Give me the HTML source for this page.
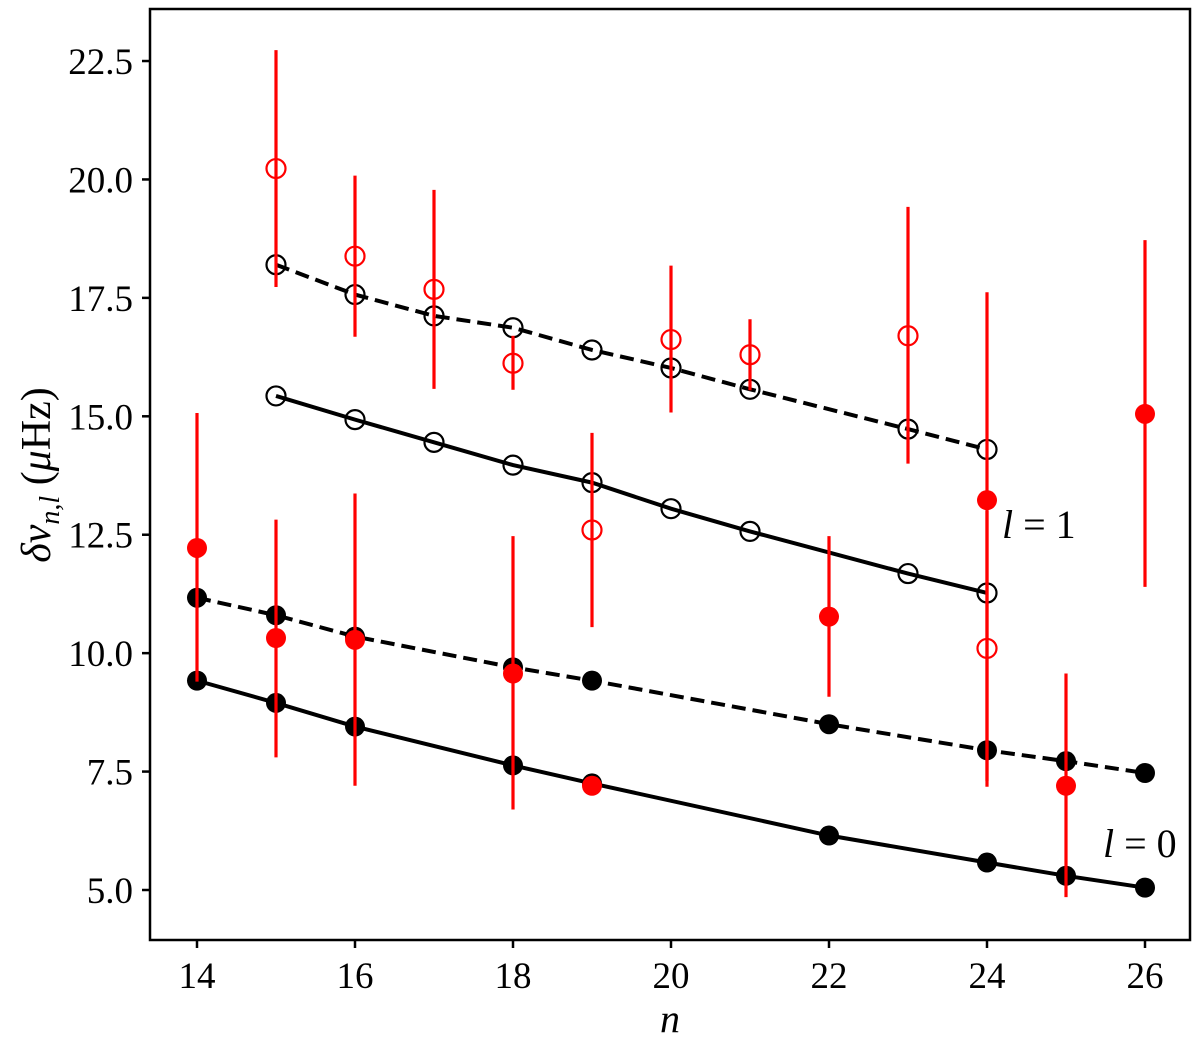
<!DOCTYPE html>
<html><head><meta charset="utf-8"><style>
html,body{margin:0;padding:0;background:#fff;}
svg text{font-family:"Liberation Serif",serif;}
</style></head><body>
<svg id="chart" width="1200" height="1040" xmlns="http://www.w3.org/2000/svg"></svg>
<script>
const xTicks=[14,16,18,20,22,24,26];
const yTicks=[5.0,7.5,10.0,12.5,15.0,17.5,20.0,22.5];
const l0SolidN=[14,15,16,18,19,22,24,25,26];
const l0SolidV=[9.42,8.95,8.45,7.63,7.25,6.15,5.58,5.3,5.05];
const l0DashN=[14,15,16,18,19,22,24,25,26];
const l0DashV=[11.17,10.8,10.35,9.7,9.42,8.5,7.95,7.72,7.47];
const l1SolidN=[15,16,17,18,19,20,21,23,24];
const l1SolidV=[15.43,14.93,14.45,13.97,13.6,13.05,12.57,11.68,11.27];
const l1DashN=[15,16,17,18,19,20,21,23,24];
const l1DashV=[18.2,17.57,17.12,16.87,16.4,16.02,15.57,14.73,14.3];
const obsFilledN=[14,15,16,18,19,22,24,25,26];
const obsFilledV=[12.22,10.32,10.28,9.57,7.2,10.77,13.23,7.2,15.05];
const obsFilledLo=[9.4,7.8,7.2,6.7,7.0,9.08,7.18,4.85,11.4];
const obsFilledHi=[15.07,12.82,13.37,12.47,7.4,12.47,17.62,9.57,18.72];
const obsOpenN=[15,16,17,18,19,20,21,23,24];
const obsOpenV=[20.23,18.38,17.68,16.12,12.6,16.62,16.3,16.7,10.1];
const obsOpenLo=[17.73,16.68,15.58,15.56,10.55,15.08,15.55,14.0,7.3];
const obsOpenHi=[22.73,20.08,19.78,16.7,14.65,18.18,17.05,19.42,13.0];

const NS="http://www.w3.org/2000/svg";
const svg=document.getElementById('chart');
const X=n=>197+(n-14)*79;
const Y=v=>890-(v-5)*47.37;
function mk(tag,attrs,parent){const e=document.createElementNS(NS,tag);for(const k in attrs)e.setAttribute(k,attrs[k]);(parent||svg).appendChild(e);return e;}

const frame=mk('rect',{x:150,y:9,width:1040,height:931,fill:'none',stroke:'#000','stroke-width':2.5});



xTicks.forEach(t=>{
  const l=mk('line',{x1:X(t),x2:X(t),y1:940,y2:948,stroke:'#000','stroke-width':2.5});
  
  
  const tx=mk('text',{x:X(t),y:988,'font-size':37,'text-anchor':'middle'});
  tx.textContent=t;
  
  
});
yTicks.forEach(t=>{
  const l=mk('line',{x1:142,x2:150,y1:Y(t),y2:Y(t),stroke:'#000','stroke-width':2.5});
  
  
  const tx=mk('text',{x:133,y:Y(t)+13,'font-size':37,'text-anchor':'end'});
  tx.textContent=t.toFixed(1);
  
  
});

const xl=mk('text',{x:670,y:1032,'font-size':40,'font-style':'italic','text-anchor':'middle'});
xl.textContent='n';


const yl=mk('text',{x:0,y:0,'font-size':42,'text-anchor':'middle',transform:'translate(50,475) rotate(-90)'});
yl.innerHTML='<tspan font-style="italic">δν</tspan><tspan font-style="italic" font-size="28" dy="9">n,l</tspan><tspan dy="-9"> (</tspan><tspan font-style="italic">μ</tspan><tspan>Hz)</tspan>';



function line(ns,vs,dash,name){
  const p=mk('polyline',{points:ns.map((n,i)=>X(n)+','+Y(vs[i])).join(' '),fill:'none',stroke:'#000','stroke-width':4,'stroke-dasharray':dash?'14,7':'none'});
  
  
}
function pts(ns,vs,filled,color,name){
  ns.forEach((n,i)=>{
    const c=mk('circle',{cx:X(n),cy:Y(vs[i]),r:filled?10:9.5,fill:filled?color:'none',stroke:color,'stroke-width':filled?0:2.2});
    
    
  });
}
function err(ns,lo,hi,name){
  ns.forEach((n,i)=>{
    const l=mk('line',{x1:X(n),x2:X(n),y1:Y(lo[i]),y2:Y(hi[i]),stroke:'#f00','stroke-width':3.2});
    
    
  });
}
line(l1DashN,l1DashV,true,'l1-dashed-line');
line(l1SolidN,l1SolidV,false,'l1-solid-line');
line(l0DashN,l0DashV,true,'l0-dashed-line');
line(l0SolidN,l0SolidV,false,'l0-solid-line');
pts(l1DashN,l1DashV,false,'#000','l1-dashed-point');
pts(l1SolidN,l1SolidV,false,'#000','l1-solid-point');
pts(l0DashN,l0DashV,true,'#000','l0-dashed-point');
pts(l0SolidN,l0SolidV,true,'#000','l0-solid-point');
err(obsOpenN,obsOpenLo,obsOpenHi,'obs-l1-errorbar');
err(obsFilledN,obsFilledLo,obsFilledHi,'obs-l0-errorbar');
pts(obsOpenN,obsOpenV,false,'#f00','obs-l1-point');
pts(obsFilledN,obsFilledV,true,'#f00','obs-l0-point');

const a1=mk('text',{x:1002,y:538,'font-size':40});
a1.innerHTML='<tspan font-style="italic">l</tspan> = 1';


const a0=mk('text',{x:1103,y:857,'font-size':40});
a0.innerHTML='<tspan font-style="italic">l</tspan> = 0';


</script>
</body></html>
